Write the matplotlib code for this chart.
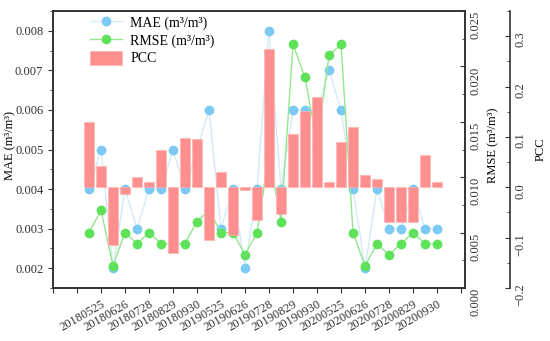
import numpy as np
import matplotlib
matplotlib.use("Agg")
import matplotlib.pyplot as plt
from matplotlib.ticker import MultipleLocator, FormatStrFormatter

plt.rcParams['font.family'] = ['Liberation Serif', 'DejaVu Serif']

dates = ["20180525", "20180626", "20180728", "20180829", "20180930",
         "20190525", "20190626", "20190728", "20190829", "20190930",
         "20200525", "20200626", "20200728", "20200829", "20200930"]

mae = [0.004, 0.005, 0.002, 0.004, 0.003, 0.004, 0.004, 0.005, 0.004, 0.005,
       0.006, 0.003, 0.004, 0.002, 0.004, 0.008, 0.004, 0.006, 0.006, 0.006,
       0.007, 0.006, 0.004, 0.002, 0.004, 0.003, 0.003, 0.004, 0.003, 0.003]

rmse = [0.005, 0.007, 0.002, 0.005, 0.004, 0.005, 0.004, 0.004, 0.004, 0.006,
        0.007, 0.005, 0.005, 0.003, 0.005, 0.012, 0.006, 0.022, 0.019, 0.013,
        0.021, 0.022, 0.005, 0.002, 0.004, 0.003, 0.004, 0.005, 0.004, 0.004]

pcc = [0.129, 0.042, -0.115, -0.013, 0.021, 0.010, 0.074, -0.130, 0.097, 0.095,
       -0.105, 0.031, -0.095, -0.006, -0.065, 0.275, -0.053, 0.105, 0.151, 0.180,
       0.011, 0.089, 0.119, 0.025, 0.016, -0.069, -0.068, -0.069, 0.065, 0.011]

x = np.arange(len(mae))
spine_col = '#333333'
tick_fs = 9

fig = plt.figure(figsize=(5.5, 3.41), dpi=100)
ax = fig.add_axes([53 / 550, 1 - 288 / 341, 412 / 550, 277 / 341])
ax2 = ax.twinx()
ax3 = ax.twinx()
ax3.spines['right'].set_position(('axes', 457 / 412))
for s in ['top', 'left', 'bottom']:
    ax3.spines[s].set_visible(False)

# lines under the bars
l1, = ax.plot(x, mae, '-o', color='#d3ebf8', lw=1, ms=6,
              mfc='#7ccaf3', mec='#7ccaf3', label='MAE (m³/m³)')
l2, = ax2.plot(x, rmse, '-o', color='#93e88f', lw=1, ms=6,
               mfc='#5fe25a', mec='#5fe25a', label='RMSE (m³/m³)')
b = ax3.bar(x, pcc, width=0.8, color='#ff8f8f', edgecolor='#ffb3b3',
            lw=0.5, label='PCC')

ax.set_xlim(-3, 31.33)
ax.set_xticks(np.arange(-3, 32, 2))
ax.set_xticklabels(['', ''] + dates + [''], rotation=30, ha='right',
                   rotation_mode='anchor', fontsize=9)

ax.set_ylim(0.0015, 0.0085)
ax.yaxis.set_major_locator(MultipleLocator(0.001))
ax.yaxis.set_minor_locator(MultipleLocator(0.0005))
ax.yaxis.set_major_formatter(FormatStrFormatter('%.3f'))
ax.tick_params(axis='y', which='major', direction='out', length=3.5,
               labelsize=tick_fs, colors=spine_col)
ax.tick_params(axis='y', which='minor', direction='out', length=2,
               colors=spine_col)
ax.tick_params(axis='x', direction='out', length=3.5, colors=spine_col)
ax.set_ylabel('MAE (m³/m³)', fontsize=9)
ax.yaxis.set_label_coords(-0.088, 0.515)

ax2.set_ylim(0, 0.025)
ax2.set_yticks(np.arange(0, 0.0251, 0.005))
ax2.yaxis.set_minor_locator(MultipleLocator(0.0025))
ax2.yaxis.set_major_formatter(FormatStrFormatter('%.3f'))
ax2.tick_params(axis='y', which='major', direction='in', length=3.5,
                labelsize=tick_fs, labelrotation=90, colors=spine_col)
ax2.tick_params(axis='y', which='minor', direction='in', length=2,
                colors=spine_col)
for lab in ax2.get_yticklabels():
    lab.set_va('top')
ax2.set_ylabel('RMSE (m³/m³)', fontsize=9)
ax2.yaxis.set_label_coords(1.055, 0.515)

ax3.set_ylim(-0.2, 0.35)
ax3.set_yticks([-0.2, -0.1, 0.0, 0.1, 0.2, 0.3])
ax3.yaxis.set_minor_locator(MultipleLocator(0.05))
ax3.tick_params(axis='y', which='major', direction='in', length=3.5,
                labelsize=tick_fs, labelrotation=90, colors=spine_col)
ax3.tick_params(axis='y', which='minor', direction='in', length=2,
                colors=spine_col)
ax3.set_ylabel('PCC', fontsize=9)
ax3.yaxis.set_label_coords(1.17, 0.5)

for a in [ax, ax2]:
    for s in a.spines.values():
        s.set_color(spine_col)
        s.set_linewidth(1.2)
ax3.spines['right'].set_color(spine_col)
ax3.spines['right'].set_linewidth(1.2)

ax3.legend([l1, l2, b], ['MAE (m³/m³)', 'RMSE (m³/m³)', 'PCC'],
           loc='upper left', bbox_to_anchor=(0.09, 0.985), frameon=False,
           fontsize=10, handlelength=2.3, handleheight=1.2,
           handletextpad=0.6, labelspacing=0.2, borderaxespad=0,
           borderpad=0)

fig.savefig('out.png', dpi=100)
